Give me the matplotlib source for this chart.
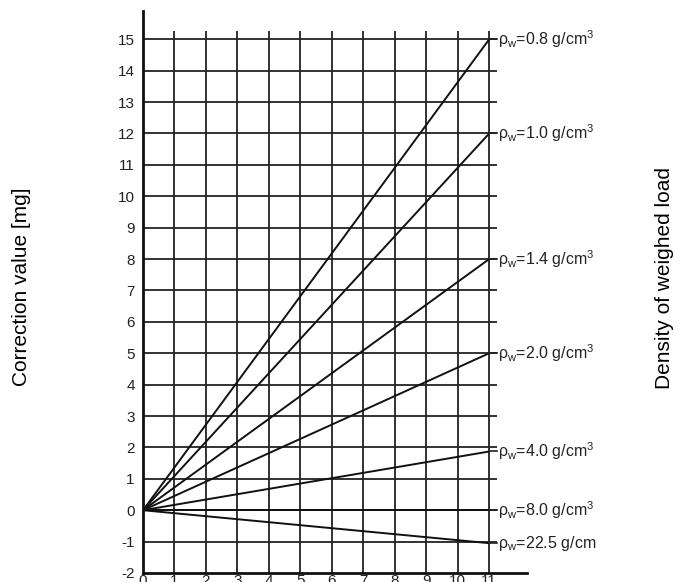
import matplotlib
matplotlib.use("Agg")
import matplotlib.pyplot as plt

plt.rcParams['font.family'] = ['Liberation Sans', 'DejaVu Sans']
plt.rcParams['mathtext.fontset'] = 'custom'
plt.rcParams['mathtext.rm'] = 'Liberation Sans'
plt.rcParams['mathtext.it'] = 'Liberation Sans'
plt.rcParams['axes.unicode_minus'] = False

# density lines: correction value at x = 11
densities = ['0.8', '1.0', '1.4', '2.0', '4.0', '8.0', '22.5']
end_values = [15, 12, 8, 5, 1.87, 0, -1.05]
units = ['g/cm$^3$'] * 6 + ['g/cm']

x_ticks = list(range(0, 12))
y_ticks = list(range(-2, 16))
x_end = 11

fig = plt.figure(figsize=(6.9, 5.82), dpi=100)
ax = fig.add_axes([143 / 690, 9 / 582, 384 / 690, 562 / 582])
ax.set_xlim(0, 12.2)
ax.set_ylim(-2, 15.9)

# grid drawn by hand so lines stop just past the last tick
ax.hlines(y_ticks[1:], 0, 11.25, colors='#222222', lw=1.3, zorder=1)
ax.vlines(x_ticks[1:], -2, 15.25, colors='#222222', lw=1.3, zorder=1)

for dens, val, unit in zip(densities, end_values, units):
    ax.plot([0, x_end], [0, val], color='#111111', lw=1.4, zorder=2)
    ax.plot([x_end, 11.25], [val, val], color='#222222', lw=1.2, zorder=2)
    ax.text(11.27, val, r'ρ$_{\mathrm{w}}$=' + dens + ' ' + unit, fontsize=11.5,
            ha='left', va='center', color='#222222', clip_on=False)

for s in ['top', 'right']:
    ax.spines[s].set_visible(False)
ax.spines['left'].set_linewidth(2)
ax.spines['bottom'].set_linewidth(2)
ax.spines['left'].set_color('#111111')
ax.spines['bottom'].set_color('#111111')

ax.set_xticks(x_ticks)
ax.set_yticks(y_ticks)
ax.tick_params(axis='both', length=0, labelsize=11, colors='#222222')
ax.tick_params(axis='y', pad=6)
ax.tick_params(axis='x', pad=1)

fig.text(22 / 690, 1 - 287 / 582, 'Correction value [mg]', rotation=90,
         ha='center', va='center', fontsize=15)
fig.text(665 / 690, 1 - 278 / 582, 'Density of weighed load', rotation=90,
         ha='center', va='center', fontsize=15)

fig.savefig('out.png', dpi=100)
